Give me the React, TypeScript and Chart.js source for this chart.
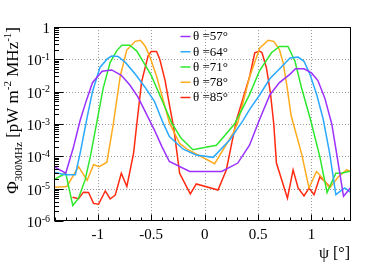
import React, { useEffect, useRef } from "react";
import { Chart, registerables } from "chart.js";

Chart.register(...registerables);

const seriesLabels = ["θ =57°", "θ =64°", "θ =71°", "θ =78°", "θ =85°"];
const seriesColors = ["#9b30ff", "#2aa9ff", "#2ee82e", "#ffab1e", "#ff2a10"];

const psi57 = [-1.41, -1.30, -1.23, -1.165, -1.11, -1.05, -0.96, -0.87, -0.78, -0.70, -0.625, -0.55, -0.47, -0.40, -0.33, -0.14, 0.16, 0.31, 0.42, 0.515, 0.61, 0.70, 0.80, 0.85, 0.93, 1.0, 1.06, 1.125, 1.19, 1.22, 1.265, 1.30, 1.37];
const phi57 = [4.8e-5, 3.0e-5, 1.8e-4, 1.3e-3, 5.0e-3, 1.9e-2, 4.3e-2, 4.7e-2, 3.2e-2, 1.6e-2, 6.9e-3, 2.2e-3, 6.5e-4, 2.0e-4, 6.9e-5, 3.4e-5, 3.4e-5, 6.2e-5, 2.2e-4, 1.4e-3, 7.9e-3, 1.9e-2, 3.5e-2, 5.1e-2, 5.1e-2, 3.8e-2, 2.2e-2, 6.3e-3, 1.0e-3, 2.5e-4, 3.0e-5, 5.8e-6, 1.1e-5];

const psi64 = [-1.41, -1.305, -1.21, -1.165, -1.10, -1.05, -0.98, -0.91, -0.87, -0.81, -0.74, -0.65, -0.56, -0.47, -0.39, -0.33, -0.20, -0.08, 0.08, 0.234, 0.36, 0.42, 0.515, 0.61, 0.70, 0.80, 0.875, 0.93, 0.985, 1.05, 1.11, 1.17, 1.228, 1.31, 1.37];
const phi64 = [3.2e-5, 2.7e-5, 2.7e-5, 1.26e-4, 1.6e-3, 1.0e-2, 5.6e-2, 1.05e-1, 1.26e-1, 1.23e-1, 7.9e-2, 3.5e-2, 1.4e-2, 5.0e-3, 1.1e-3, 4.1e-4, 1.66e-4, 1.1e-4, 9.3e-5, 3.2e-4, 1.3e-3, 2.8e-3, 7.9e-3, 2.5e-2, 5.0e-2, 1.1e-1, 1.17e-1, 8.7e-2, 3.5e-2, 7.9e-3, 1.4e-3, 1.26e-4, 6.5e-6, 1.05e-5, 7.6e-6];

const psi71 = [-1.41, -1.30, -1.234, -1.18, -1.118, -1.07, -1.01, -0.95, -0.885, -0.82, -0.775, -0.70, -0.635, -0.57, -0.50, -0.39, -0.31, -0.22, -0.11, 0.11, 0.28, 0.42, 0.515, 0.625, 0.70, 0.78, 0.845, 0.905, 0.99, 1.078, 1.146, 1.228, 1.28, 1.37];
const phi71 = [1.9e-5, 3.0e-5, 3.0e-6, 5.1e-6, 1.9e-5, 9.8e-5, 1.1e-3, 1.26e-2, 7.9e-2, 1.9e-1, 2.75e-1, 2.75e-1, 1.8e-1, 7.9e-2, 3.2e-2, 4.6e-3, 1.1e-3, 3.6e-4, 1.6e-4, 2.2e-4, 1.0e-3, 8.1e-3, 4.5e-2, 1.6e-1, 2.5e-1, 2.5e-1, 8.9e-2, 1.4e-2, 1.4e-3, 9.8e-5, 7.6e-6, 3.0e-5, 3.0e-5, 3.5e-5];

const psi78 = [-1.41, -1.29, -1.18, -1.10, -1.04, -0.985, -0.915, -0.855, -0.79, -0.73, -0.65, -0.60, -0.555, -0.515, -0.45, -0.33, -0.234, -0.156, 0.094, 0.265, 0.31, 0.42, 0.515, 0.595, 0.647, 0.70, 0.735, 0.77, 0.81, 0.906, 0.977, 1.047, 1.094, 1.17, 1.25, 1.328, 1.37];
const phi78 = [1.1e-5, 1.17e-5, 4.8e-5, 1.8e-5, 5.5e-5, 4.8e-5, 6.6e-5, 1.0e-3, 3.0e-2, 1.9e-1, 3.6e-1, 3.9e-1, 2.5e-1, 1.26e-1, 3.0e-2, 1.1e-3, 2.5e-4, 1.6e-4, 5.9e-5, 5.1e-4, 1.1e-3, 2.8e-2, 2.2e-1, 3.9e-1, 3.6e-1, 2.0e-1, 7.8e-2, 1.5e-2, 1.8e-3, 1.26e-4, 1.05e-5, 3.4e-5, 2.3e-5, 1.05e-5, 2.3e-5, 3.8e-5, 3.4e-5];

const psi85 = [-1.237, -1.18, -1.134, -1.087, -1.04, -0.993, -0.93, -0.884, -0.837, -0.78, -0.728, -0.665, -0.635, -0.59, -0.53, -0.50, -0.45, -0.42, -0.37, -0.33, -0.29, -0.234, -0.134, -0.078, 0.125, 0.203, 0.297, 0.422, 0.469, 0.515, 0.537, 0.578, 0.616, 0.647, 0.672, 0.775, 0.828, 0.875, 0.93, 0.977, 1.024, 1.078, 1.125, 1.17];
const phi85 = [5.4e-6, 4.9e-6, 7.8e-6, 7.6e-6, 3.5e-6, 3.3e-6, 8.5e-6, 4.8e-6, 6.3e-6, 3.0e-5, 1.17e-5, 1.26e-4, 1.0e-3, 2.0e-2, 1.26e-1, 1.74e-1, 1.74e-1, 1.0e-1, 2.2e-2, 4.0e-3, 7.9e-4, 3.0e-5, 6.9e-6, 1.4e-5, 9.1e-6, 3.8e-5, 1.3e-3, 3.0e-2, 1.6e-1, 1.8e-1, 1.6e-1, 5.5e-2, 9.1e-3, 1.0e-3, 6.2e-5, 5.1e-6, 3.8e-5, 1.05e-5, 6.0e-6, 1.05e-5, 6.5e-6, 2.3e-5, 1.66e-5, 1.17e-5];

const xMajorTicks = [-1, -0.5, 0, 0.5, 1];
const xTickLabels = ["-1", "-0.5", "0", "0.5", "1"];
const yTickValues = [1, 1e-1, 1e-2, 1e-3, 1e-4, 1e-5, 1e-6];
const yTickBases = ["1", "10", "10", "10", "10", "10", "10"];
const yTickExps = ["", "-1", "-2", "-3", "-4", "-5", "-6"];

const xTitle = "ψ [°]";
const yTitleParts: { t: string; kind: "n" | "sub" | "sup" }[] = [
  { t: "Φ", kind: "n" },
  { t: "300MHz", kind: "sub" },
  { t: " [pW m", kind: "n" },
  { t: "-2", kind: "sup" },
  { t: " MHz", kind: "n" },
  { t: "-1", kind: "sup" },
  { t: "]", kind: "n" },
];

const SERIF = '"Liberation Serif", "DejaVu Serif", serif';
const X_MIN = -1.41;
const X_MAX = 1.37;

const rootStyle = {
  id: "rootStyle",
  beforeDatasetsDraw(chart: any) {
    const { ctx, chartArea: a, scales } = chart;
    const xs = scales.x;
    const ys = scales.y;
    ctx.save();
    ctx.strokeStyle = "#9a9a9a";
    ctx.lineWidth = 1;
    ctx.setLineDash([1, 2]);
    xMajorTicks.forEach((v) => {
      const px = Math.round(xs.getPixelForValue(v)) + 0.5;
      ctx.beginPath();
      ctx.moveTo(px, a.top);
      ctx.lineTo(px, a.bottom);
      ctx.stroke();
    });
    yTickValues.forEach((v) => {
      const py = Math.round(ys.getPixelForValue(v)) + 0.5;
      if (py <= a.top + 1 || py >= a.bottom - 1) return;
      ctx.beginPath();
      ctx.moveTo(a.left, py);
      ctx.lineTo(a.right, py);
      ctx.stroke();
    });
    ctx.restore();
  },
  afterDatasetsDraw(chart: any) {
    const { ctx, chartArea: a, scales } = chart;
    const xs = scales.x;
    const ys = scales.y;
    ctx.save();
    ctx.setLineDash([]);
    ctx.strokeStyle = "#000";
    ctx.lineWidth = 1;
    // frame
    ctx.strokeRect(Math.round(a.left) + 0.5, Math.round(a.top) + 0.5, Math.round(a.right - a.left) - 1, Math.round(a.bottom - a.top) - 1);
    const bottom = Math.round(a.bottom) - 0.5;
    const left = Math.round(a.left) + 0.5;
    // x ticks
    for (let i = -14; i <= 13; i++) {
      const v = i / 10;
      if (v < X_MIN || v > X_MAX) continue;
      const major = i % 5 === 0;
      const px = Math.round(xs.getPixelForValue(v)) + 0.5;
      ctx.beginPath();
      ctx.moveTo(px, bottom);
      ctx.lineTo(px, bottom - (major ? 6 : 3));
      ctx.stroke();
    }
    // y ticks
    for (let e = -6; e <= 0; e++) {
      for (let m = 1; m <= 9; m++) {
        const v = m * Math.pow(10, e);
        if (v > 1.0001) continue;
        const py = Math.round(ys.getPixelForValue(v)) + 0.5;
        ctx.beginPath();
        ctx.moveTo(left, py);
        ctx.lineTo(left + (m === 1 ? 9 : 4.5), py);
        ctx.stroke();
      }
    }
    ctx.fillStyle = "#000";
    // x tick labels
    ctx.font = `15px ${SERIF}`;
    ctx.textAlign = "center";
    ctx.textBaseline = "alphabetic";
    xMajorTicks.forEach((v, i) => {
      const px = xs.getPixelForValue(v);
      ctx.fillText(xTickLabels[i], px, 239);
    });
    // y tick labels
    yTickValues.forEach((v, i) => {
      const py = ys.getPixelForValue(v);
      const right = 50;
      ctx.font = `10px ${SERIF}`;
      const supW = yTickExps[i] ? ctx.measureText(yTickExps[i]).width : 0;
      ctx.textAlign = "left";
      if (yTickExps[i]) ctx.fillText(yTickExps[i], right - supW, py + 0.5);
      ctx.font = `15px ${SERIF}`;
      ctx.textAlign = "right";
      ctx.fillText(yTickBases[i], right - supW, py + 6);
    });
    // x title
    ctx.font = `16px ${SERIF}`;
    ctx.textAlign = "right";
    ctx.fillText(xTitle, 350, 258);
    // y title (rotated)
    ctx.save();
    ctx.translate(18, 27);
    ctx.rotate(-Math.PI / 2);
    ctx.textAlign = "left";
    const sizeOf = (k: string) => (k === "n" ? 17 : 11);
    const dyOf = (k: string) => (k === "sub" ? 4 : k === "sup" ? -7 : 0);
    let total = 0;
    yTitleParts.forEach((p) => {
      ctx.font = `${sizeOf(p.kind)}px ${SERIF}`;
      total += ctx.measureText(p.t).width;
    });
    let cx = -total;
    yTitleParts.forEach((p) => {
      ctx.font = `${sizeOf(p.kind)}px ${SERIF}`;
      ctx.fillText(p.t, cx, dyOf(p.kind));
      cx += ctx.measureText(p.t).width;
    });
    ctx.restore();
    // legend
    ctx.font = `13px ${SERIF}`;
    ctx.textAlign = "left";
    ctx.textBaseline = "middle";
    chart.data.datasets.forEach((ds: any, i: number) => {
      const y = 36.5 + i * 15.25;
      ctx.strokeStyle = ds.borderColor;
      ctx.lineWidth = 1.5;
      ctx.beginPath();
      ctx.moveTo(180.5, y);
      ctx.lineTo(190.5, y);
      ctx.stroke();
      ctx.fillStyle = "#000";
      ctx.fillText(ds.label, 193, y + 0.5);
    });
    ctx.restore();
  },
};

export default function App() {
  const canvasRef = useRef<HTMLCanvasElement | null>(null);
  useEffect(() => {
    const canvas = canvasRef.current;
    if (!canvas) return;
    const xsList = [psi57, psi64, psi71, psi78, psi85];
    const ysList = [phi57, phi64, phi71, phi78, phi85];
    const chart = new Chart(canvas, {
      type: "line",
      data: {
        datasets: xsList.map((xs, i) => ({
          label: seriesLabels[i],
          data: xs.map((x, j) => ({ x, y: ysList[i][j] })),
          borderColor: seriesColors[i],
          backgroundColor: seriesColors[i],
          borderWidth: 1.5,
          pointRadius: 0,
          tension: 0,
          fill: false,
        })),
      },
      options: {
        responsive: false,
        animation: false,
        layout: { padding: { left: 54, right: 39, top: 27, bottom: 44 } },
        plugins: { legend: { display: false }, tooltip: { enabled: false } },
        scales: {
          x: { type: "linear", min: X_MIN, max: X_MAX, display: false },
          y: { type: "logarithmic", min: 1e-6, max: 1, display: false },
        },
      },
      plugins: [rootStyle],
    } as any);
    return () => chart.destroy();
  }, []);
  return (
    <div style={{ position: "absolute", left: 0, top: 0, width: 390, height: 265, background: "#fff" }}>
      <canvas ref={canvasRef} width={390} height={265} style={{ width: 390, height: 265 }} />
    </div>
  );
}
